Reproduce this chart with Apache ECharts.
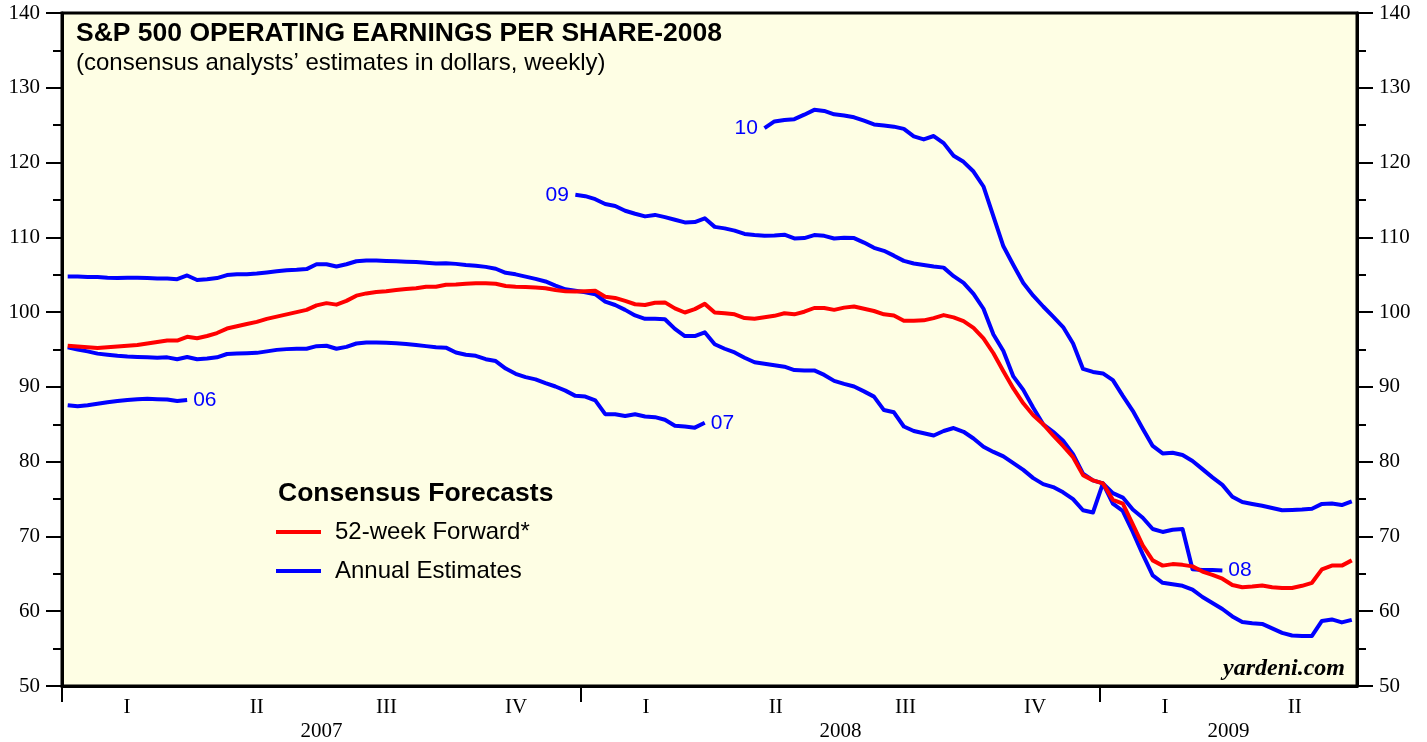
<!DOCTYPE html>
<html>
<head>
<meta charset="utf-8">
<title>S&P 500 Operating Earnings Per Share - 2008</title>
<script src="https://cdn.jsdelivr.net/npm/echarts@6/dist/echarts.min.js"></script>
<style>
  html, body { margin: 0; padding: 0; background: #fff; }
  #chart { width: 1427px; height: 742px; }
</style>
</head>
<body>
<div id="chart"></div>
<script>
  // weekly consensus estimates, week 0 = first Friday of 2007
  const fwd52 = [
    95.5, 95.4, 95.3, 95.2, 95.3, 95.4, 95.5, 95.6, 95.8, 96.0,
    96.2, 96.2, 96.7, 96.5, 96.8, 97.2, 97.8, 98.1, 98.4, 98.7,
    99.1, 99.4, 99.7, 100.0, 100.3, 100.9, 101.2, 101.0, 101.5, 102.2,
    102.5, 102.7, 102.8, 102.95, 103.1, 103.2, 103.4, 103.4, 103.65, 103.7,
    103.8, 103.85, 103.85, 103.8, 103.5, 103.4, 103.35, 103.3, 103.2, 102.95,
    102.8, 102.75, 102.8, 102.85, 102.05, 101.9, 101.5, 101.05, 100.95, 101.25,
    101.3, 100.5, 99.95, 100.4, 101.1, 99.95, 99.85, 99.7, 99.2, 99.1,
    99.3, 99.5, 99.85, 99.7, 100.05, 100.55, 100.55, 100.3, 100.6, 100.75,
    100.45, 100.15, 99.7, 99.55, 98.85, 98.85, 98.9, 99.2, 99.6, 99.3,
    98.8, 97.9, 96.5, 94.5, 92.1, 89.8, 87.8, 86.2, 85.0, 83.5,
    82.1, 80.6, 78.2, 77.5, 77.1, 74.9, 74.4, 71.6, 68.8, 66.8,
    66.1, 66.3, 66.2, 66.0, 65.3, 64.85, 64.35, 63.5, 63.2, 63.3,
    63.45, 63.2, 63.1, 63.1, 63.4, 63.8, 65.6, 66.1, 66.1, 66.8
  ];
  const est06Start = 0;
  const est06 = [87.55, 87.4, 87.55, 87.75, 87.95, 88.1, 88.25, 88.35, 88.4, 88.35, 88.3, 88.1, 88.25];
  const est07Start = 0;
  const est07 = [
    95.3, 95.0, 94.75, 94.45, 94.3, 94.15, 94.05, 94.0, 93.95, 93.9,
    93.95, 93.7, 94.0, 93.7, 93.8, 93.95, 94.4, 94.45, 94.5, 94.55,
    94.75, 94.95, 95.05, 95.1, 95.1, 95.45, 95.5, 95.1, 95.35, 95.8,
    95.95, 95.95, 95.9, 95.85, 95.75, 95.6, 95.45, 95.3, 95.25, 94.6,
    94.3, 94.15, 93.7, 93.45, 92.45, 91.75, 91.3, 91.0, 90.5, 90.05,
    89.5, 88.8, 88.7, 88.2, 86.35, 86.35, 86.1, 86.35, 86.05, 85.95,
    85.6, 84.8, 84.7, 84.55, 85.2
  ];
  const est08Start = 0;
  const est08 = [
    104.75, 104.75, 104.7, 104.7, 104.6, 104.55, 104.6, 104.6, 104.55, 104.5,
    104.5, 104.4, 104.9, 104.3, 104.4, 104.55, 104.95, 105.05, 105.05, 105.15,
    105.3, 105.45, 105.6, 105.65, 105.75, 106.4, 106.4, 106.1, 106.4, 106.8,
    106.9, 106.9, 106.85, 106.8, 106.75, 106.7, 106.6, 106.5, 106.55, 106.45,
    106.3, 106.2, 106.05, 105.8, 105.25, 105.05, 104.75, 104.45, 104.1, 103.55,
    103.05, 102.85, 102.65, 102.4, 101.4, 100.95, 100.3, 99.55, 99.1, 99.1,
    99.05, 97.75, 96.8, 96.8, 97.3, 95.7, 95.1, 94.6, 93.9, 93.3,
    93.1, 92.9, 92.7, 92.25, 92.2, 92.2, 91.6, 90.8, 90.4, 90.05,
    89.4, 88.7, 86.9, 86.6, 84.7, 84.1, 83.8, 83.5, 84.1, 84.5,
    84.0, 83.1, 82.0, 81.3, 80.7, 79.8, 78.9, 77.8, 77.0, 76.6,
    75.9, 75.0, 73.5, 73.2, 77.1, 75.8, 75.2, 73.6, 72.5, 71.0,
    70.6, 70.9, 71.0, 65.6, 65.5, 65.5, 65.45
  ];
  const est09Start = 51;
  const est09 = [
    115.7, 115.5, 115.1, 114.45, 114.2, 113.55, 113.15, 112.8, 113.0,
    112.7, 112.35, 112.0, 112.05, 112.55, 111.4, 111.2, 110.9, 110.45, 110.3,
    110.2, 110.25, 110.35, 109.85, 109.9, 110.3, 110.2, 109.85, 109.95, 109.9,
    109.3, 108.6, 108.2, 107.55, 106.85, 106.5, 106.3, 106.1, 105.95, 104.8,
    103.9, 102.45, 100.45, 97.0, 94.8, 91.4, 89.6, 87.2, 85.0, 84.0,
    82.8, 81.0, 78.4, 77.5, 77.1, 74.4, 73.4, 70.6, 67.6, 64.8,
    63.8, 63.6, 63.4, 62.9, 61.9, 61.1, 60.3, 59.3, 58.55, 58.4,
    58.3, 57.7, 57.1, 56.75, 56.7, 56.7, 58.7, 58.9, 58.5, 58.85
  ];
  const est10Start = 70;
  const est10 = [
    124.6, 125.5, 125.7, 125.8, 126.4, 127.05, 126.9, 126.45, 126.3, 126.05,
    125.6, 125.1, 124.95, 124.8, 124.5, 123.5, 123.1, 123.55, 122.6, 120.9,
    120.1, 118.8, 116.8, 112.8, 108.8, 106.3, 103.9, 102.2, 100.75, 99.4,
    98.0, 95.8, 92.4, 92.0, 91.8, 90.9, 88.8, 86.8, 84.4, 82.1,
    81.1, 81.2, 80.9, 80.1, 79.0, 77.9, 76.9, 75.3, 74.6, 74.35,
    74.1, 73.8, 73.5, 73.55, 73.6, 73.7, 74.35, 74.4, 74.2, 74.7
  ];
  const quarterLabels = ['I', 'II', 'III', 'IV'];
  const years = [2007, 2008, 2009];
  const yTicks = [50, 140, 10];

  const xMin = 2007;
  const xMax = 2009.495;
  const sans = 'Liberation Sans, Arial, sans-serif';
  const serif = 'Liberation Serif, Times New Roman, serif';
  const BLUE = '#0000ff';
  const RED = '#ff0000';

  const weekDate = w => 2007 + (4 + 7 * w) / 365;
  const pairs = (values, start) => values.map((v, i) => [weekDate(start + i), v]);

  // quarter mid points and the middle of each visible year
  const quarterMids = [];
  years.forEach(y => {
    for (let q = 0; q < 4; q++) {
      const m = y + q * 0.25 + 0.125;
      if (m < xMax) quarterMids.push(m);
    }
  });
  const yearMids = years.map(y => (Math.max(y, xMin) + Math.min(y + 1, xMax)) / 2);

  const chart = echarts.init(document.getElementById('chart'));

  function estimateSeries(values, start, tag, atStart) {
    const s = {
      name: 'Annual Estimates',
      type: 'line',
      data: pairs(values, start),
      showSymbol: false,
      silent: true,
      color: BLUE,
      lineStyle: { color: BLUE, width: 4, join: 'round' },
      z: 2
    };
    const labelStyle = { color: BLUE, fontFamily: sans, fontSize: 21 };
    if (atStart) {
      s.markPoint = {
        symbol: 'circle',
        symbolSize: 1,
        itemStyle: { color: 'rgba(0,0,0,0)' },
        silent: true,
        data: [{
          coord: s.data[0],
          label: Object.assign({ show: true, position: 'left', distance: 6, formatter: tag }, labelStyle)
        }]
      };
    } else {
      s.endLabel = Object.assign({ show: true, distance: 6, formatter: tag }, labelStyle);
    }
    return s;
  }

  chart.setOption({
    animation: false,
    backgroundColor: '#ffffff',
    title: [
      {
        text: 'S&P 500 OPERATING EARNINGS PER SHARE-2008',
        left: 76, top: 20, padding: 0,
        textStyle: { fontFamily: sans, fontWeight: 'bold', fontSize: 26.5, color: '#000' }
      },
      {
        text: '(consensus analysts\u2019 estimates in dollars, weekly)',
        left: 76, top: 51, padding: 0,
        textStyle: { fontFamily: sans, fontWeight: 'normal', fontSize: 24, color: '#000' }
      },
      {
        text: 'Consensus Forecasts',
        left: 278, top: 480, padding: 0,
        textStyle: { fontFamily: sans, fontWeight: 'bold', fontSize: 26.5, color: '#000' }
      },
      {
        text: 'yardeni.com',
        right: 82, top: 657, padding: 0,
        textStyle: { fontFamily: serif, fontWeight: 'bold', fontStyle: 'italic', fontSize: 24, color: '#000' }
      }
    ],
    legend: {
      data: ['52-week Forward*', 'Annual Estimates'],
      orient: 'vertical',
      left: 276,
      top: 520,
      padding: 0,
      itemGap: 15,
      itemWidth: 45,
      itemHeight: 4,
      icon: 'rect',
      selectedMode: false,
      textStyle: { fontFamily: sans, fontSize: 24, color: '#000', padding: [0, 0, 0, 9] }
    },
    grid: {
      left: 62, right: 70, top: 13, bottom: 56,
      show: true,
      backgroundColor: '#fefee4',
      borderColor: '#000',
      borderWidth: 3
    },
    xAxis: [
      {
        type: 'value',
        min: xMin, max: xMax,
        position: 'bottom',
        splitLine: { show: false },
        axisLine: { show: true, lineStyle: { color: '#000', width: 3 } },
        axisTick: {
          show: true, length: 16, customValues: years,
          lineStyle: { color: '#000', width: 2 }
        },
        axisLabel: {
          customValues: quarterMids,
          margin: 11,
          fontFamily: serif, fontSize: 21, color: '#000',
          formatter: v => quarterLabels[Math.floor((v - Math.floor(v)) * 4)]
        }
      },
      {
        type: 'value',
        min: xMin, max: xMax,
        position: 'bottom',
        splitLine: { show: false },
        axisLine: { show: false },
        axisTick: { show: false },
        axisLabel: {
          customValues: yearMids,
          margin: 35,
          fontFamily: serif, fontSize: 21, color: '#000',
          formatter: v => String(Math.floor(v))
        }
      }
    ],
    yAxis: ['left', 'right'].map(pos => ({
      type: 'value',
      position: pos,
      min: yTicks[0], max: yTicks[1], interval: yTicks[2],
      splitLine: { show: false },
      axisLine: { show: true, lineStyle: { color: '#000', width: 3 } },
      axisTick: { show: true, length: 16, lineStyle: { color: '#000', width: 2 } },
      minorTick: { show: true, splitNumber: 2, length: 9, lineStyle: { color: '#000', width: 2 } },
      axisLabel: { margin: 22, fontFamily: serif, fontSize: 21, color: '#000' }
    })),
    series: [
      estimateSeries(est06, est06Start, '06', false),
      estimateSeries(est07, est07Start, '07', false),
      estimateSeries(est08, est08Start, '08', false),
      estimateSeries(est09, est09Start, '09', true),
      estimateSeries(est10, est10Start, '10', true),
      {
        name: '52-week Forward*',
        type: 'line',
        data: pairs(fwd52, 0),
        showSymbol: false,
        silent: true,
        color: RED,
        lineStyle: { color: RED, width: 4, join: 'round' },
        z: 3
      }
    ]
  });
</script>
</body>
</html>
